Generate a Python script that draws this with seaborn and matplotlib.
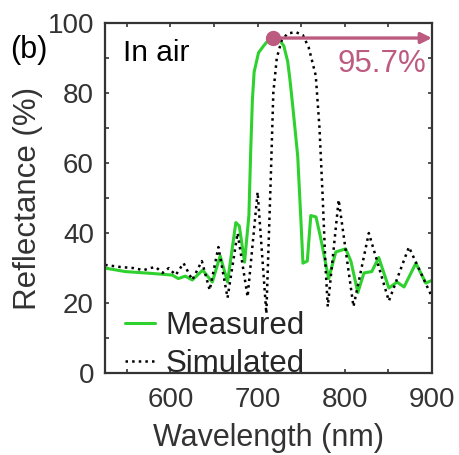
import matplotlib
matplotlib.use("Agg")
import matplotlib.pyplot as plt
from matplotlib.ticker import MultipleLocator
import pandas as pd
import seaborn as sns

# measured reflectance (green)
meas_nm = [525, 548, 577, 602, 609, 617, 625, 637, 648, 657, 665.5, 675, 679,
           685, 690, 692, 694, 696, 701, 707, 712, 718, 724, 730, 734.5, 737,
           740, 746, 750, 752, 757, 761, 767, 772, 781.5, 789.7, 801, 807,
           815, 822, 831, 839, 850.6, 860, 868, 881.6, 893, 901]
meas_r = [30, 29, 28.5, 28, 27, 27.7, 26.6, 29.4, 26, 33.5, 26, 43, 42,
          31.7, 45, 63, 78, 86, 91.5, 93.5, 95, 95.7, 95.5, 93.5, 89, 84,
          77, 62, 42, 31.4, 32, 45, 44.6, 39, 27, 34.6, 35.5, 32,
          23, 28.6, 29, 33, 24.3, 26, 24.6, 31.4, 25.7, 26.6]

# simulated reflectance (black dotted)
sim_nm = [525, 542.5, 557.5, 569, 577, 583, 591, 598, 606, 615, 625, 636, 645,
          655, 665.5, 677, 688.5, 700, 710, 715, 718, 722, 727.5, 734.5,
          743.7, 752, 758.6, 766.7, 771, 774.7, 778, 780.5, 793, 810, 827.6,
          850.6, 873.6, 899]
sim_r = [30.9, 30.3, 30, 29.4, 30, 30.3, 28.6, 30, 28, 31.4, 26.6, 32, 23.7,
         36, 21.5, 40, 21.8, 51.7, 17, 55, 80, 90, 95, 97,
         97.4, 96.5, 93, 85, 70, 50, 30, 19, 49.5, 19, 40,
         20.6, 36, 22.3]

peak_nm = 718
peak_r = 95.7
peak_label = "95.7%"

x_ticks = [600, 700, 800, 900]
y_ticks = [0, 20, 40, 60, 80, 100]

sns.set_theme(style="ticks")
plt.rcParams["font.family"] = ["Liberation Sans", "DejaVu Sans"]

meas = pd.DataFrame({"nm": meas_nm, "R": meas_r})
sim = pd.DataFrame({"nm": sim_nm, "R": sim_r})

fig = plt.figure(figsize=(4.59, 4.55), dpi=100)
ax = fig.add_axes([0.229, 0.18, 0.712, 0.7695])

green = "#2ed12e"
rose = "#bd5a80"
grey = "#333333"

sns.lineplot(data=meas, x="nm", y="R", ax=ax, color=green, lw=2.2,
             label="Measured", sort=False)
sns.lineplot(data=sim, x="nm", y="R", ax=ax, color="black", lw=1.8,
             linestyle=":", label="Simulated", sort=False)

ax.set_xlim(525, 900)
ax.set_ylim(0, 100)
ax.set_xticks(x_ticks)
ax.set_yticks(y_ticks)
ax.xaxis.set_minor_locator(MultipleLocator(50))
ax.yaxis.set_minor_locator(MultipleLocator(10))
ax.tick_params(which="both", direction="in", top=True, right=True,
               length=3, width=1.2, color=grey, labelsize=20,
               labelcolor=grey)
ax.tick_params(axis="x", pad=10)
ax.tick_params(axis="y", pad=8)
for sp in ax.spines.values():
    sp.set_color(grey)
    sp.set_linewidth(1.6)

ax.set_xlabel("Wavelength (nm)", fontsize=22, color=grey, labelpad=7)
ax.set_ylabel("Reflectance (%)", fontsize=22.5, color=grey, labelpad=3)

# peak marker and arrow to the right edge
ax.annotate("", xy=(900, peak_r), xytext=(peak_nm, peak_r),
            arrowprops=dict(arrowstyle="-|>", color=rose, lw=2.4,
                            mutation_scale=16, shrinkA=0, shrinkB=0),
            annotation_clip=False)
ax.plot([peak_nm], [peak_r], "o", color=rose, ms=10, zorder=5)
ax.text(893, 88.3, peak_label, color=rose, fontsize=22.5, ha="right",
        va="center")

ax.text(546, 91.4, "In air", fontsize=21.5, color="black", ha="left",
        va="center")
fig.text(0.063, 0.89, "(b)", fontsize=22, color="black", ha="center",
         va="center")

ax.legend(loc="lower left", bbox_to_anchor=(0.061, -0.018), frameon=False,
          fontsize=22.5, handlelength=0.97, handletextpad=0.32,
          labelspacing=0.27, borderpad=0, borderaxespad=0)

fig.savefig("out.png", dpi=100)
